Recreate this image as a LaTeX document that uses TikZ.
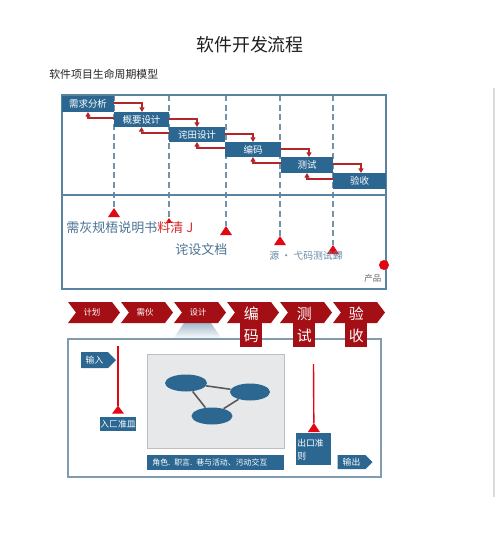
\documentclass[tikz,border=0pt]{standalone}
\usepackage{fontspec}
\setmainfont{Noto Sans CJK SC}
\usetikzlibrary{arrows.meta,calc,shapes.geometric,shapes.symbols}
\definecolor{boxblue}{HTML}{2B6791}
\definecolor{frameblue}{HTML}{5A83A0}
\definecolor{dashblue}{HTML}{7393AA}
\definecolor{arrred}{HTML}{B2262A}
\definecolor{brightred}{HTML}{E30613}
\definecolor{chevred}{HTML}{A30F14}
\definecolor{txtblue}{HTML}{4A7394}
\definecolor{txtred}{HTML}{D42B2B}
\definecolor{stagegray}{HTML}{E6E8EA}
\definecolor{framegray}{HTML}{7F9CB0}
\tikzset{
  sz/.style 2 args={minimum width=#1*0.02cm, minimum height=#2*0.02cm},
  stepbox/.style={fill=boxblue, text=white, inner sep=0, outer sep=0, anchor=north west,
    font=\fontsize{5.4}{6}\selectfont},
  redarr/.style={arrred, line width=0.9pt, -{Triangle[length=2.6pt,width=2.8pt]}},
  dashline/.style={dashblue, line width=0.7pt, dash pattern=on 3.5pt off 2pt},
  chevtext/.style={text=white, font=\fontsize{4.8}{6}\selectfont, inner sep=0},
  vbox/.style={fill=chevred, text=white, inner sep=0, anchor=north west, align=center,
    font=\fontsize{8.5}{12.5}\selectfont},
  tag/.style={signal, signal to=east, signal pointer angle=90, fill=boxblue, text=white,
    inner sep=0, font=\fontsize{5}{6}\selectfont},
  smallbox/.style={fill=boxblue, text=white, inner sep=0, font=\fontsize{5}{7.5}\selectfont},
  redline/.style={brightred, line width=0.8pt},
}
\begin{document}
\begin{tikzpicture}[x=0.02cm, y=-0.02cm]
\useasboundingbox (0,0) rectangle (500,555);
\fill[white] (0,0) rectangle (500,555);

% title
\node[font=\fontsize{10.2}{12}\selectfont, text=black!88] (title) at (250,45) {软件开发流程};
\node[anchor=west, inner sep=0, font=\fontsize{6.2}{7}\selectfont, text=black!85] (sub) at (49,74) {软件项目生命周期模型};

% right faint line
\draw[black!14, line width=0.6pt] (494,88) -- (494,497);

% dashed lines and triangles
\foreach \n/\x/\y/\s in {1/114/208/1, 2/169/218/0.55, 3/226/226/1, 4/280/236/1, 5/333/245/1}{
  \coordinate (d\n) at (\x,95);
  \coordinate (t\n) at (\x,\y);
  \draw[dashline] (d\n) -- (t\n);
  \fill[brightred] (t\n) -- ++(-6*\s,9*\s) -- ++(12*\s,0) -- cycle;
}

% top frame
\draw[frameblue, line width=0.75pt] (62,95) rectangle (386,289);
\draw[frameblue, line width=0.75pt] (62,195) -- (386,195);

% step boxes
\node[stepbox, sz={52}{16}] (s1) at (62,96) {需求分析};
\node[stepbox, sz={55}{15}] (s2) at (114,112) {概要设计};
\node[stepbox, sz={56}{15}] (s3) at (169,127) {诧田设计};
\node[stepbox, sz={56}{15}] (s4) at (225,142) {编码};
\node[stepbox, sz={52}{16}] (s5) at (281,157) {测试};
\node[stepbox, sz={53}{16}] (s6) at (333,173) {验收};

\foreach \a/\b in {s1/s2, s2/s3, s3/s4, s4/s5, s5/s6}{
  \draw[redarr] ($(\a.north east)+(0,7)$) -| ($(\b.north west)+(28,0)$);
  \draw[redarr] ($(\b.west |- \a.south)+(0,6)$) -| (\a.south);
}

% lower texts
\node[anchor=west, inner sep=0, font=\fontsize{7.4}{8}\selectfont, text=txtblue] (spec) at (66,228)
  {需灰规梧说明书\textcolor{txtred}{料清 J}};
\node[anchor=west, inner sep=0, font=\fontsize{7.4}{8}\selectfont, text=txtblue] (design) at (175,250) {诧设文档};
\node[anchor=west, inner sep=0, font=\fontsize{5.6}{7}\selectfont, text=txtblue!85] (src) at (269,256) {源 · 弋码测试歸};
\node[anchor=west, inner sep=0, font=\fontsize{4.8}{6}\selectfont, text=black!60] (prod) at (364,278) {产品};
\node[circle, fill=brightred, minimum size=0.2cm, inner sep=0] (dot) at (384,265) {};

% gradient trapezoid
\shade[top color=frameblue!55, bottom color=white] (184,323) -- (211,323) -- (222,339) -- (173,339) -- cycle;

% bottom frame
\draw[framegray, line width=0.8pt] (68,339) rectangle (381,477);

% chevrons
\foreach \i in {0,...,5}{
  \pgfmathsetmacro\xa{68+53*\i}
  \fill[chevred] (\xa,302) -- ++(44,0) -- ++(8,10.5) -- ++(-8,10.5) -- ++(-44,0) -- ++(8,-10.5) -- cycle;
}
\node[chevtext] (c1) at (92,312.5) {计划};
\node[chevtext, font=\fontsize{4.8}{6}\selectfont\itshape] (c2) at (145,312.5) {需伙};
\node[chevtext] (c3) at (198,312.5) {设计};
\node[vbox, sz={22}{45}] (c4) at (240,302) {编\\码};
\node[vbox, sz={22}{45}] (c5) at (293,302) {测\\试};
\node[vbox, sz={22}{45}] (c6) at (345,302) {验\\收};

% inner stage
\node[draw=black!25, fill=stagegray, anchor=north west, sz={137}{94}, inner sep=0] (stage) at (147,354) {};
\node[ellipse, fill=boxblue, minimum width=42*0.02cm, minimum height=17*0.02cm, inner sep=0] (e1) at (186,383) {};
\node[ellipse, fill=boxblue, minimum width=40*0.02cm, minimum height=17*0.02cm, inner sep=0] (e2) at (250,392) {};
\node[ellipse, fill=boxblue, minimum width=41*0.02cm, minimum height=17*0.02cm, inner sep=0] (e3) at (212,416) {};
\draw[black!65, line width=0.9pt] (e1) -- (e2);
\draw[black!65, line width=0.9pt] (e1) -- (e3);
\draw[black!65, line width=0.9pt] (e2) -- (e3);
\node[fill=boxblue, text=white, anchor=north west, sz={137}{15}, inner ysep=0, inner xsep=5*0.02cm,
  text width=127*0.02cm, align=left, font=\fontsize{4.5}{6}\selectfont] (cap) at (147,455)
  {角色. 职言. 巷与活动、污动交互};

% tags and boxes
\node[tag, sz={35}{16}] (inp) at (94.5,360) {输入};
\node[tag, sz={35}{14}] (outp) at (351.5,462) {输出};
\node[smallbox, sz={36}{14}] (inbox) at (118,424) {入匚准皿};
\node[smallbox, anchor=north west, sz={35}{32}, text width=33*0.02cm, inner xsep=1*0.02cm, align=left] (outbox) at (296,433) {出口准\\则};

% red connectors with triangles
\coordinate (inTop) at (118,346);
\coordinate (outTop) at (313.5,364);
\draw[redline] (inTop) -- ($(inbox.north)+(0,-11)$);
\fill[brightred] ($(inbox.north)+(0,-11)$) -- ++(-6,8) -- ++(12,0) -- cycle;
\draw[redline] (outTop) -- ($(outbox.north)+(0,-10)$);
\fill[brightred] ($(outbox.north)+(0,-10)$) -- ++(-6,9) -- ++(12,0) -- cycle;
\end{tikzpicture}
\end{document}
